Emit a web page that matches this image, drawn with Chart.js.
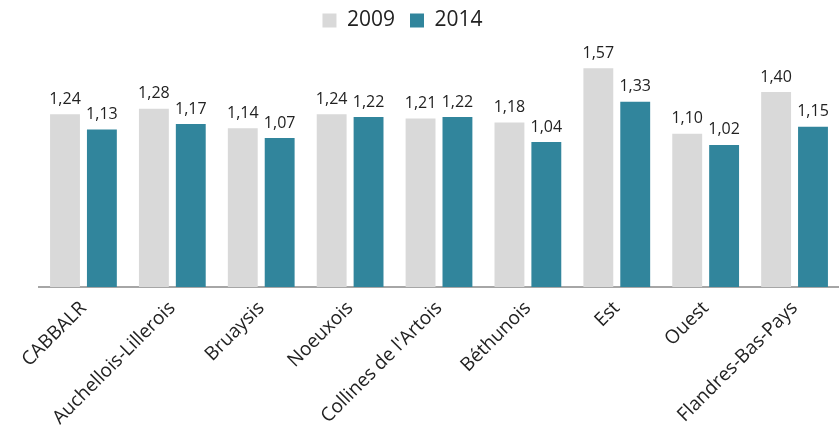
<!DOCTYPE html>
<html>
<head>
<meta charset="utf-8">
<script src="https://cdn.jsdelivr.net/npm/chart.js@4"></script>
<style>
  html, body { margin: 0; padding: 0; background: #fff; }
  #wrap { width: 839px; height: 427px; }
</style>
</head>
<body>
<div id="wrap"><canvas id="myChart" width="839" height="427"></canvas></div>
<script>
const categories = ["CABBALR", "Auchellois-Lillerois", "Bruaysis", "Noeuxois", "Collines de l'Artois", "Béthunois", "Est", "Ouest", "Flandres-Bas-Pays"];
const values2009 = [1.24, 1.28, 1.14, 1.24, 1.21, 1.18, 1.57, 1.10, 1.40];
const values2014 = [1.13, 1.17, 1.07, 1.22, 1.22, 1.04, 1.33, 1.02, 1.15];

// draws the value above each bar, with a comma as decimal mark
const barLabels = {
    id: "barLabels",
    afterLayout(chart) {
        // legend sits a bit left and higher than the default spot in the original
        chart.legend.left -= 17;
        chart.legend.right -= 17;
        chart.legend.top -= 5;
        chart.legend.bottom -= 5;
    },
    afterDatasetsDraw(chart) {
        const ctx = chart.ctx;
        ctx.save();
        ctx.font = "16px 'Open Sans'";
        ctx.fillStyle = "#222";
        ctx.textAlign = "center";
        ctx.textBaseline = "bottom";
        chart.data.datasets.forEach((ds, i) => {
            chart.getDatasetMeta(i).data.forEach((bar, j) => {
                ctx.fillText(ds.data[j].toFixed(2).replace(".", ","), bar.x, bar.y - 7);
            });
        });
        ctx.restore();
    }
};

const ctx = document.getElementById("myChart");

new Chart(ctx, {
    type: "bar",
    data: {
        labels: categories,
        datasets: [
            { label: "2009", data: values2009, backgroundColor: "#D9D9D9" },
            { label: "2014", data: values2014, backgroundColor: "#31859C" }
        ]
    },
    options: {
        responsive: false,
        animation: false,
        layout: { padding: 0 },
        categoryPercentage: 0.83,
        barPercentage: 0.81,
        plugins: {
            legend: {
                position: "top",
                labels: {
                    font: { family: "'Open Sans'", size: 21 },
                    color: "#222",
                    boxWidth: 14,
                    boxHeight: 14,
                    padding: 15
                }
            },
            tooltip: { enabled: false }
        },
        scales: {
            x: {
                grid: { display: false, drawTicks: false },
                border: { color: "#A6A6A6", width: 2 },
                ticks: {
                    font: { family: "'Open Sans'", size: 19 },
                    color: "#222",
                    minRotation: 45,
                    maxRotation: 45,
                    padding: 10
                },
                afterFit(scale) {
                    scale.height = 140;
                    scale.paddingLeft = 39;
                    scale.paddingRight = 0;
                }
            },
            y: {
                display: false,
                min: 0,
                max: 1.73
            }
        }
    },
    plugins: [barLabels]
});
</script>
</body>
</html>
